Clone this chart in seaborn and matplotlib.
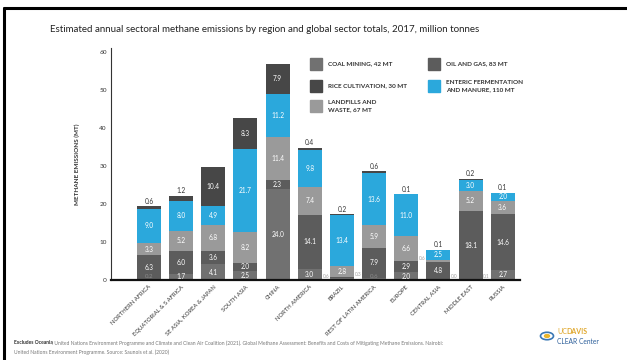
import numpy as np
import pandas as pd
import matplotlib
matplotlib.use("Agg")
import matplotlib.pyplot as plt
from matplotlib.patches import Rectangle, Circle
from matplotlib.lines import Line2D
import seaborn as sns

regions = ["NORTHERN AFRICA", "EQUATORIAL & S AFRICA", "SE ASIA, KOREA & JAPAN",
           "SOUTH ASIA", "CHINA", "NORTH AMERICA", "BRAZIL", "REST OF LATIN AMERICA",
           "EUROPE", "CENTRAL ASIA", "MIDDLE EAST", "RUSSIA"]
coal     = [0.2, 1.7, 4.1, 2.5, 24.0, 3.0, 0.6, 0.6, 2.0, 0.0, 0.1, 2.7]
oil_gas  = [6.3, 6.0, 3.6, 2.0, 2.3, 14.1, 0.3, 7.9, 2.9, 4.8, 18.1, 14.6]
landfill = [3.3, 5.2, 6.8, 8.2, 11.4, 7.4, 2.8, 5.9, 6.6, 0.6, 5.2, 3.6]
enteric  = [9.0, 8.0, 4.9, 21.7, 11.2, 9.8, 13.4, 13.6, 11.0, 2.5, 3.0, 2.0]
rice     = [0.6, 1.2, 10.4, 8.3, 7.9, 0.4, 0.2, 0.6, 0.1, 0.1, 0.2, 0.1]

legend_labels = ["COAL MINING, 42 MT", "OIL AND GAS, 83 MT", "LANDFILLS AND\nWASTE, 67 MT",
                 "ENTERIC FERMENTATION\nAND MANURE, 110 MT", "RICE CULTIVATION, 30 MT"]
yticks = [0, 10, 20, 30, 40, 50, 60]

colors = ["#717171", "#5c5c5c", "#9a9a9a", "#2ba8dc", "#474747"]

# where small (<1.5) segment labels go: (bar index, layer index) -> side
side_labels = {(6, 0): "left", (6, 1): "right", (9, 0): "right", (10, 0): "right",
               (9, 2): "left"}

sns.set_style("white")
plt.rcParams["font.family"] = ["Lato", "DejaVu Sans"]

fig = plt.figure(figsize=(6.27, 3.6), dpi=100)
ax = fig.add_axes([0.177, 0.222, 0.652, 0.645])

stack = np.array([coal, oil_gas, landfill, enteric, rice])
cum = np.cumsum(stack, axis=0)

for i in range(len(stack) - 1, -1, -1):
    df = pd.DataFrame({"region": regions, "value": cum[i]})
    sns.barplot(data=df, x="region", y="value", order=regions, color=colors[i],
                saturation=1, width=0.745, ax=ax, linewidth=0)

for j in range(len(regions)):
    for i in range(len(stack)):
        v = stack[i][j]
        yc = cum[i][j] - v / 2
        if v >= 1.5:
            ax.text(j, yc, f"{v:.1f}", ha="center", va="center", color="white",
                    fontsize=4.7)
        elif i == len(stack) - 1:
            ax.text(j, cum[i][j] + 0.4, f"{v:.1f}", ha="center", va="bottom",
                    color="#333333", fontsize=4.7)
        else:
            side = side_labels.get((j, i), "inside")
            y0 = max(cum[i][j] - v, 0) + 0.2
            if side == "left":
                ax.text(j - 0.39, y0, f"{v:.1f}", ha="right", va="bottom",
                        color="#a0a0a0", fontsize=3.4)
            elif side == "right":
                ax.text(j + 0.39, y0, f"{v:.1f}", ha="left", va="bottom",
                        color="#a0a0a0", fontsize=3.4)
            else:
                ax.text(j, 0.4, f"{v:.1f}", ha="center", va="bottom",
                        color="#8a8a8a", fontsize=4.4)

ax.set_xlim(-1.18, 11.53)
ax.set_ylim(0, 61)
ax.set_yticks(yticks)
ax.set_yticklabels([str(t) for t in yticks], fontsize=4.6, color="#333333")
ax.set_xticks(range(len(regions)))
ax.set_xticklabels(regions, rotation=45, ha="right", rotation_mode="anchor",
                   fontsize=4.2, color="#333333")
ax.tick_params(axis="both", length=0, pad=3)
ax.set_xlabel("")
ax.set_ylabel("METHANE EMISSIONS (MT)", fontsize=4.6, color="#333333",
              fontweight="bold", labelpad=14)
for s in ["top", "right"]:
    ax.spines[s].set_visible(False)
ax.spines["left"].set_color("#333333")
ax.spines["left"].set_linewidth(0.8)
ax.spines["bottom"].set_color("#111111")
ax.spines["bottom"].set_linewidth(1.6)

# legend
W, H = 627, 360
def fx(x):
    return x / W
def fy(y):
    return 1 - y / H

leg_items = [(0, 310, 58), (4, 310, 80), (2, 310, 100), (1, 428, 58), (3, 428, 80)]
for idx, x0, y0 in leg_items:
    fig.patches.append(Rectangle((fx(x0), fy(y0 + 12)), 12 / W, 12 / H,
                                 transform=fig.transFigure, color=colors[idx]))
    fig.text(fx(x0 + 18), fy(y0 + 6), legend_labels[idx], ha="left", va="center",
             fontsize=4.6, color="#333333", fontweight="bold", linespacing=1.5)

fig.text(fx(265), fy(29), "Estimated annual sectoral methane emissions by region and global sector totals, 2017, million tonnes",
         ha="center", va="center", fontsize=7.0, color="#222222")

t1 = fig.text(fx(14), fy(343), "Excludes Oceania", ha="left", va="center", fontsize=3.6,
              fontweight="bold", color="#333333")
fig.canvas.draw()
bb = t1.get_window_extent(renderer=fig.canvas.get_renderer())
fig.text((bb.x1 - 0.5) / fig.bbox.width, fy(343), ". United Nations Environment Programme and Climate and Clean Air Coalition (2021). Global Methane Assessment: Benefits and Costs of Mitigating Methane Emissions. Nairobi:",
         ha="left", va="center", fontsize=3.6, color="#777777")
fig.text(fx(14), fy(352), "United Nations Environment Programme. Source: Saunois et al. (2020)",
         ha="left", va="center", fontsize=3.6, color="#777777")

# logo
fig.patches.append(Circle((fx(547), fy(336)), 6.5 / W, transform=fig.transFigure,
                          facecolor="white", edgecolor="#3a78b5", linewidth=1.2))
fig.patches.append(Circle((fx(547), fy(336)), 2.5 / W, transform=fig.transFigure,
                          color="#e8b52c"))
fig.text(fx(557), fy(332), "UC", ha="left", va="center", fontsize=5, color="#e0a82e")
fig.text(fx(566), fy(332), "DAVIS", ha="left", va="center", fontsize=5,
         color="#e0a82e", fontweight="bold")
fig.text(fx(557), fy(341), "CLEAR Center", ha="left", va="center", fontsize=4.8,
         color="#2d5f9a")

# frame
fig.add_artist(Line2D([fx(4), 1], [fy(8), fy(8)], color="black", linewidth=2.2,
                      transform=fig.transFigure))
fig.add_artist(Line2D([fx(4), fx(4)], [fy(8), 0], color="black", linewidth=2.2,
                      transform=fig.transFigure))

fig.savefig("out.png", dpi=100)
